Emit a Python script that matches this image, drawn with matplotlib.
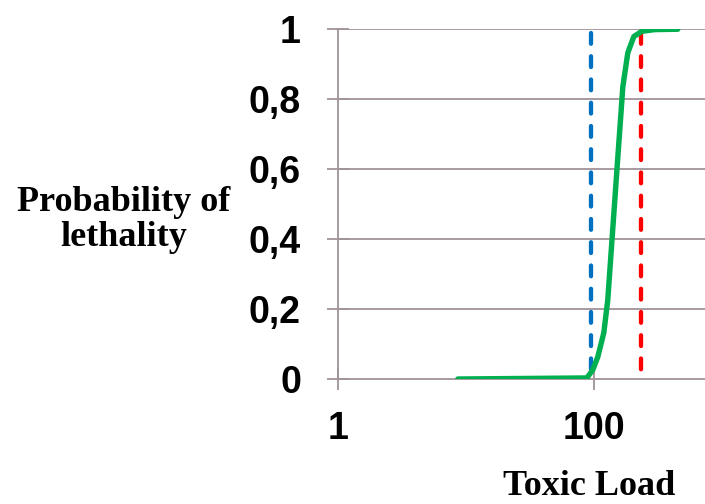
import matplotlib.pyplot as plt

# lethality probability vs toxic load (log axis)
load = [8.58, 87.4, 97.3, 106.4, 118.6, 127.4, 132.8, 138.7, 144.6, 153.5,
        160.2, 167.0, 182.8, 203.6, 235.0, 297.0, 449.0]
prob = [0.0, 0.003, 0.026, 0.063, 0.132, 0.226, 0.320, 0.418, 0.512, 0.647,
        0.741, 0.835, 0.933, 0.979, 0.994, 0.999, 1.0]
low_threshold = 93.4
high_threshold = 229.6
yticks = [0, 0.2, 0.4, 0.6, 0.8, 1.0]
ytick_labels = ["0", "0,2", "0,4", "0,6", "0,8", "1"]
xticks = [1, 100]
xtick_labels = ["1", "100"]

fig = plt.figure(figsize=(7.05, 5.04), dpi=100)
ax = fig.add_axes([0.480, 0.248, 0.520, 0.694])

grid_col = "#A0939A"
for y in yticks[1:]:
    ax.axhline(y, color=grid_col, lw=1.3, zorder=1)

ax.plot([low_threshold, low_threshold], [0.99, 0], color="#0070C0", lw=3.1,
        dashes=(2.5, 2.9), dash_capstyle="round", zorder=2)
ax.plot([high_threshold, high_threshold], [0.99, 0], color="#FF0000", lw=3.1,
        dashes=(2.5, 2.9), dash_capstyle="round", zorder=2)

ax.plot(load, prob, color="#00B050", lw=3.9, solid_capstyle="round",
        solid_joinstyle="round", zorder=3)

ax.set_xscale("log")
ax.set_xlim(1, 10 ** 2.865)
ax.set_ylim(0, 1)
ax.set_xticks(xticks)
ax.set_xticklabels(xtick_labels)
ax.minorticks_off()
ax.set_yticks(yticks)
ax.set_yticklabels(ytick_labels)

for s in ["top", "right"]:
    ax.spines[s].set_visible(False)
for s in ["left", "bottom"]:
    ax.spines[s].set_color(grid_col)
    ax.spines[s].set_linewidth(1.3)
ax.tick_params(axis="both", color=grid_col, width=1.3, length=16,
               direction="inout")
ax.tick_params(axis="y", pad=19)
ax.tick_params(axis="x", pad=15)
for lab in ax.get_xticklabels() + ax.get_yticklabels():
    lab.set_fontfamily("Liberation Sans")
    lab.set_fontweight("bold")
    lab.set_fontsize(27)

fig.text(0.175, 0.563, "Probability of\nlethality", ha="center", va="center",
         fontfamily="Liberation Serif", fontweight="bold", fontsize=26,
         linespacing=1.1)
fig.text(0.835, 0.018, "Toxic Load", ha="center", va="baseline",
         fontfamily="Liberation Serif", fontweight="bold", fontsize=26)

fig.savefig("out.png", dpi=100)
